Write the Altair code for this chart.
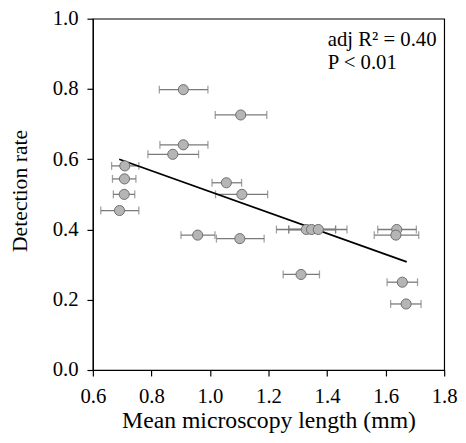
import altair as alt
import pandas as pd

# Data
length = [0.909, 1.105, 0.909, 0.873, 0.709, 0.708, 0.707, 0.691, 1.056, 1.109,
          0.958, 1.102, 1.329, 1.347, 1.370, 1.638, 1.635, 1.311, 1.657, 1.670]
length_lo = [0.827, 1.018, 0.829, 0.788, 0.664, 0.667, 0.670, 0.627, 1.007, 1.019,
             0.901, 1.022, 1.227, 1.269, 1.269, 1.573, 1.561, 1.250, 1.605, 1.617]
length_hi = [0.993, 1.194, 0.993, 0.961, 0.757, 0.747, 0.743, 0.757, 1.108, 1.197,
             1.017, 1.185, 1.429, 1.429, 1.468, 1.705, 1.713, 1.374, 1.709, 1.721]
detection = [0.798, 0.726, 0.641, 0.614, 0.581, 0.544, 0.500, 0.454, 0.533, 0.500,
             0.384, 0.374, 0.400, 0.400, 0.400, 0.400, 0.384, 0.272, 0.250, 0.188]

fit_x = [0.690, 1.672]
fit_y = [0.600, 0.308]

annot_text = ["adj R\u00b2 = 0.40", "P < 0.01"]

FONT = "Liberation Serif, Times New Roman, serif"

df = pd.DataFrame({"x": length, "lo": length_lo, "hi": length_hi, "y": detection})
fit = pd.DataFrame({"x": fit_x, "y": fit_y})

xscale = alt.Scale(domain=[0.6, 1.8], nice=False, zero=False)
yscale = alt.Scale(domain=[0.0, 1.0], nice=False)

xaxis = alt.Axis(values=[0.6, 0.8, 1.0, 1.2, 1.4, 1.6, 1.8], format=".1f",
                 title="Mean microscopy length (mm)", grid=False,
                 labelFont=FONT, labelFontSize=21, titleFont=FONT, titleFontSize=24,
                 titleFontWeight="normal", labelColor="black", titleColor="black",
                 domainColor="black", tickColor="black", tickSize=6, labelPadding=10,
                 titlePadding=2, labelFlush=False)
yaxis = alt.Axis(values=[0.0, 0.2, 0.4, 0.6, 0.8, 1.0], format=".1f",
                 title="Detection rate", grid=False,
                 labelFont=FONT, labelFontSize=21, titleFont=FONT, titleFontSize=22,
                 titleFontWeight="normal", labelColor="black", titleColor="black",
                 domainColor="black", tickColor="black", tickSize=6, labelPadding=9,
                 titleX=-62, titleY=174, labelFlush=False)

base = alt.Chart(df)

bars = base.mark_rule(color="#7a7a7a", strokeWidth=1.3).encode(
    x=alt.X("lo:Q", scale=xscale, axis=xaxis),
    x2="hi:Q",
    y=alt.Y("y:Q", scale=yscale, axis=yaxis),
)
cap_lo = base.mark_tick(color="#7a7a7a", orient="vertical", size=8, thickness=1.3).encode(
    x=alt.X("lo:Q", scale=xscale), y=alt.Y("y:Q", scale=yscale))
cap_hi = base.mark_tick(color="#7a7a7a", orient="vertical", size=8, thickness=1.3).encode(
    x=alt.X("hi:Q", scale=xscale), y=alt.Y("y:Q", scale=yscale))

pts = base.mark_point(filled=True, fill="#b5b5b5", stroke="#6e6e6e", strokeWidth=1,
                      size=105, opacity=1, shape="circle").encode(
    x=alt.X("x:Q", scale=xscale), y=alt.Y("y:Q", scale=yscale))

line = alt.Chart(fit).mark_line(color="black", strokeWidth=1.8).encode(
    x=alt.X("x:Q", scale=xscale), y=alt.Y("y:Q", scale=yscale))

ann_df = pd.DataFrame({"t": [annot_text[0]]})
ann_df2 = pd.DataFrame({"t": [annot_text[1]]})
text1 = alt.Chart(ann_df).mark_text(font=FONT, fontSize=21, fontWeight="normal", align="left",
                                    baseline="alphabetic", color="black").encode(
    x=alt.value(238), y=alt.value(28), text="t:N")
text2 = alt.Chart(ann_df2).mark_text(font=FONT, fontSize=21, fontWeight="normal", align="left",
                                     baseline="alphabetic", color="black").encode(
    x=alt.value(238), y=alt.value(51), text="t:N")

chart = alt.layer(bars, cap_lo, cap_hi, line, pts, text1, text2).properties(
    width=356, height=356,
    autosize=alt.AutoSizeParams(type="none"),
    padding={"left": 86, "top": 8, "right": 14, "bottom": 63},
).configure_view(stroke="black", strokeWidth=1.2).configure_axis(domainWidth=1.2, tickWidth=1.2)

chart.save("out.html", embed_options={"renderer": "svg", "actions": False})
